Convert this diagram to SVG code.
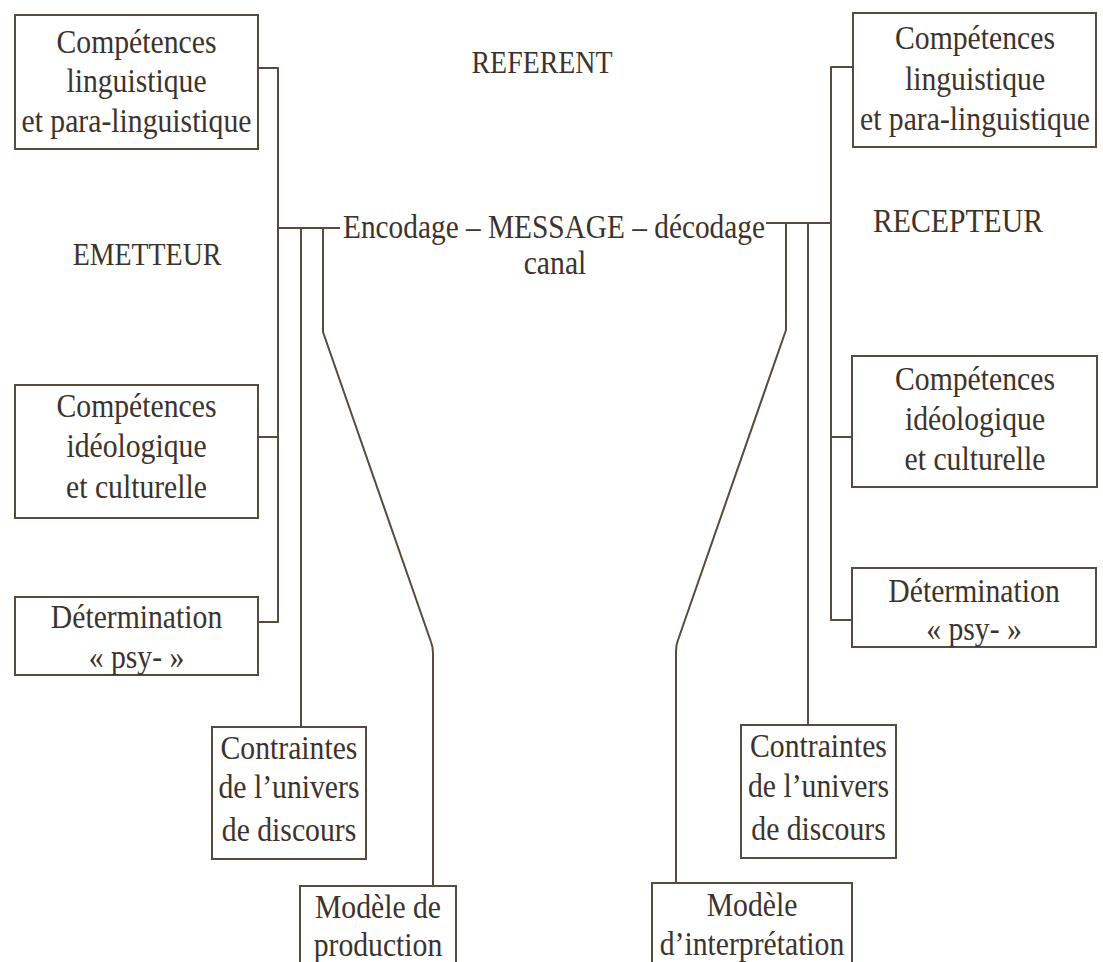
<svg xmlns="http://www.w3.org/2000/svg" width="1103" height="962" viewBox="0 0 1103 962">
<style>
.box{fill:#fff;stroke:#5a4a3c;stroke-width:2}
.ln{fill:none;stroke:#5a4a3c;stroke-width:2;stroke-linejoin:round}
text{font-family:"Liberation Serif","Times New Roman",serif;font-size:33px;fill:#3d332c;text-anchor:middle}
.lbl{font-size:31px}
</style>
<rect width="1103" height="962" fill="#fff"/>
<g id="connectors">
<path class="ln" d="M258 68H278V622H258M258 437H278M278 228H340M301 228V727M323 228V332L431 642Q433 647 433 653V886"/>
<path class="ln" d="M853 67H831V620H852M852 437H831M831 223H766M808 223V725M786 223V330L678 640Q676 645 676 651V883"/>
</g>
<g id="referent" transform="translate(542 0) scale(0.9 1)"><text class="lbl" x="0" y="73">REFERENT</text></g>
<g id="emetteur" transform="translate(147 0) scale(0.9 1)"><text class="lbl" x="0" y="265">EMETTEUR</text></g>
<g id="recepteur" transform="translate(958 0) scale(0.9 1)"><text x="0" y="232">RECEPTEUR</text></g>
<g id="message"><text x="554" y="238" textLength="422" lengthAdjust="spacingAndGlyphs">Encodage – MESSAGE – décodage</text><g transform="translate(555 0) scale(0.9 1)"><text x="0" y="274">canal</text></g></g>
<g id="e-ling"><rect class="box" x="15" y="15" width="243" height="134"/><g transform="translate(136.5 0) scale(0.9 1)"><text x="0" y="53">Compétences</text><text x="0" y="92">linguistique</text><text x="0" y="132">et para-linguistique</text></g></g>
<g id="e-ideo"><rect class="box" x="15" y="385" width="243" height="133"/><g transform="translate(136.5 0) scale(0.9 1)"><text x="0" y="417">Compétences</text><text x="0" y="457">idéologique</text><text x="0" y="498">et culturelle</text></g></g>
<g id="e-psy"><rect class="box" x="15" y="597" width="243" height="78"/><g transform="translate(136.5 0) scale(0.9 1)"><text x="0" y="628">Détermination</text><text x="0" y="668">« psy- »</text></g></g>
<g id="e-contr"><rect class="box" x="212" y="727" width="154" height="132"/><g transform="translate(289 0) scale(0.9 1)"><text x="0" y="759">Contraintes</text><text x="0" y="798">de l’univers</text><text x="0" y="841">de discours</text></g></g>
<g id="e-model"><rect class="box" x="300" y="886" width="156" height="90"/><g transform="translate(378 0) scale(0.9 1)"><text x="0" y="918">Modèle de</text><text x="0" y="956">production</text></g></g>
<g id="r-ling"><rect class="box" x="853" y="13" width="243" height="134"/><g transform="translate(975 0) scale(0.9 1)"><text x="0" y="49">Compétences</text><text x="0" y="90">linguistique</text><text x="0" y="130">et para-linguistique</text></g></g>
<g id="r-ideo"><rect class="box" x="852" y="356" width="245" height="131"/><g transform="translate(975 0) scale(0.9 1)"><text x="0" y="390">Compétences</text><text x="0" y="430">idéologique</text><text x="0" y="470">et culturelle</text></g></g>
<g id="r-psy"><rect class="box" x="852" y="568" width="244" height="79"/><g transform="translate(974 0) scale(0.9 1)"><text x="0" y="602">Détermination</text><text x="0" y="640">« psy- »</text></g></g>
<g id="r-contr"><rect class="box" x="741" y="725" width="155" height="133"/><g transform="translate(818.5 0) scale(0.9 1)"><text x="0" y="757">Contraintes</text><text x="0" y="797">de l’univers</text><text x="0" y="840">de discours</text></g></g>
<g id="r-model"><rect class="box" x="652" y="883" width="200" height="90"/><g transform="translate(752 0) scale(0.9 1)"><text x="0" y="916">Modèle</text><text x="0" y="955">d’interprétation</text></g></g>
</svg>
